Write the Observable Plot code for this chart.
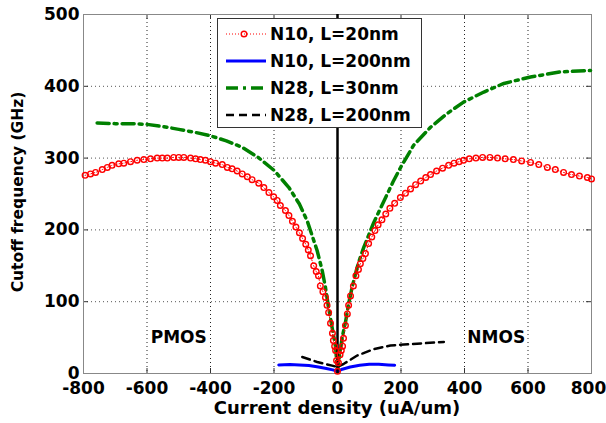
<!DOCTYPE html>
<html>
<head>
<meta charset="utf-8">
<script src="https://cdn.jsdelivr.net/npm/d3@7"></script>
<script src="https://cdn.jsdelivr.net/npm/@observablehq/plot@0.6"></script>
<style>
  html, body { margin: 0; padding: 0; background: #fff; }
  #wrap { position: relative; width: 606px; height: 423px; }
  #legend { position: absolute; left: 217px; top: 18px; width: 205px; height: 110px;
            box-sizing: border-box; border: 1px solid #333; background: #fff; }
  #legend svg { display: block; }
  #legend text { font-family: "DejaVu Sans", sans-serif; font-weight: bold; font-size: 17px; fill: #000; }
  .title { position: absolute; white-space: nowrap; font-family: "DejaVu Sans", sans-serif;
           font-weight: bold; color: #000; line-height: 1; }
  #ytitle { left: 19px; top: 192px; font-size: 15.5px; transform: translate(-50%, -50%) rotate(-90deg); }
  #xtitle { left: 337px; top: 408px; font-size: 18px; transform: translate(-50%, -50%); }
</style>
</head>
<body>
<div id="wrap"></div>
<script>
// Tick values
const xTicks = [-800, -600, -400, -200, 0, 200, 400, 600, 800];
const yTicks = [0, 100, 200, 300, 400, 500];

// N10, L=20nm (uA/um, GHz)
const n10L20X = [-795, -778, -762, -741, -725, -710, -689, -673, -652, -631, -610, -589, -568, -552, -536, -516, -500, -484, -463, -447, -432, -416, -400, -384, -363, -347, -332, -316, -300, -284, -269, -248, -232, -216, -201, -190, -180, -164, -153, -142, -131, -120, -110, -100, -92, -85, -75, -67, -60, -54, -46, -38, -33, -28, -22, -16, -13, -9, -6, -3, 0,
  3, 8, 12, 16, 19, 25, 31, 35, 41, 50, 58, 66, 72, 80, 88, 98, 108, 118, 128, 140, 152, 165, 180, 198, 214, 230, 246, 262, 278, 293, 312, 331, 350, 367, 383, 397, 415, 436, 457, 480, 504, 528, 554, 580, 608, 634, 661, 686, 712, 737, 762, 787, 800];
const n10L20Y = [276, 278, 280, 284, 287, 290, 292, 293, 295, 297, 298, 299, 300, 300, 300, 301, 301, 301, 300, 299, 298, 297, 295, 293, 291, 287, 285, 282, 278, 274, 270, 265, 259, 252, 246, 241, 234, 227, 220, 212, 204, 196, 188, 180, 172, 164, 150, 142, 136, 122, 114, 106, 95, 85, 70, 56, 46, 38, 32, 18, 3,
  15, 26, 32, 38, 49, 67, 83, 95, 108, 122, 136, 145, 153, 160, 167, 181, 190, 199, 207, 214, 222, 230, 237, 245, 251, 257, 263, 268, 273, 277, 282, 286, 290, 293, 295, 297, 299, 300, 301, 301, 300, 299, 298, 296, 294, 291, 287, 284, 280, 277, 275, 273, 271];

// N10, L=200nm
const n10L200X = [-185, -150, -120, -90, -60, -35, -15, 0, 15, 40, 70, 100, 130, 160, 180];
const n10L200Y = [12, 12.5, 12, 11, 9, 7, 5, 3, 6, 9, 11.5, 13, 13, 12, 11.5];

// N28, L=30nm
const n28L30X = [-757, -700, -650, -600, -550, -500, -450, -400, -350, -300, -250, -200, -153, -120, -95, -64, -48, -38, -28, -17, -6, 0,
  4, 15, 25, 35, 46, 62, 72, 83, 114, 146, 175, 200, 240, 293, 345, 397, 461, 524, 608, 702, 797];
const n28L30Y = [349, 348, 348, 347, 344, 340, 336, 331, 324, 315, 301, 283, 259, 236, 212, 171, 143, 120, 92, 64, 37, 2,
  18, 51, 71, 97, 120, 148, 162, 176, 210, 240, 267, 288, 318, 343, 362, 378, 392, 404, 413, 420, 422];

// N28, L=200nm
const n28L200X = [-111, -64, -17, 0, 20, 62, 115, 167, 230, 335];
const n28L200Y = [23, 16, 11, 9, 13.5, 25, 34, 39, 41, 44];

// Region labels
const regionNames = ["PMOS", "NMOS"];
const regionX = [-500, 500];
const regionY = [50, 50];

const rows = (xs, ys) => xs.map((x, i) => ({x, y: ys[i]}));
const red = rows(n10L20X, n10L20Y);
const blue = rows(n10L200X, n10L200Y);
const green = rows(n28L30X, n28L30Y);
const black = rows(n28L200X, n28L200Y);
const regions = regionNames.map((name, i) => ({name, x: regionX[i], y: regionY[i]}));

const W = 606, H = 423, mL = 83, mR = 15, mT = 14, mB = 50;
const innerW = W - mL - mR, innerH = H - mT - mB;
const tickLen = 5;
const font = {fontFamily: "DejaVu Sans, sans-serif", fontWeight: "bold"};
const lastX = xTicks[xTicks.length - 1];

const chart = Plot.plot({
  width: W, height: H,
  marginLeft: mL, marginRight: mR, marginTop: mT, marginBottom: mB,
  style: {fontFamily: "DejaVu Sans, sans-serif", fontSize: "17px", fontWeight: "bold", color: "#000", background: "#fff"},
  x: {domain: [-800, 800], ticks: xTicks, tickSize: 0, tickPadding: 8, label: null,
      tickFormat: d => d === lastX ? "" : String(d)},
  y: {domain: [0, 500], ticks: yTicks, tickSize: 0, tickPadding: 4, label: null},
  marks: [
    // dotted grid
    Plot.ruleX(xTicks.slice(1, -1), {stroke: "#222", strokeWidth: 1, strokeDasharray: "1,3"}),
    Plot.ruleY(yTicks.slice(1, -1), {stroke: "#555", strokeWidth: 1, strokeDasharray: "1,3"}),
    // inward ticks on all four sides
    Plot.tickX(xTicks, {x: d => d, insetTop: innerH - tickLen, stroke: "#333"}),
    Plot.tickX(xTicks, {x: d => d, insetBottom: innerH - tickLen, stroke: "#333"}),
    Plot.tickY(yTicks, {y: d => d, insetRight: innerW - tickLen, stroke: "#333"}),
    Plot.tickY(yTicks, {y: d => d, insetLeft: innerW - tickLen, stroke: "#333"}),
    Plot.frame({stroke: "#888", strokeWidth: 1}),
    // last x tick label, kept inside the page edge
    Plot.text([lastX], {x: d => d, frameAnchor: "bottom", lineAnchor: "top", dy: 8, dx: -3, text: d => String(d), fontSize: 17, ...font, fill: "#000"}),
    // curves
    Plot.line(green, {x: "x", y: "y", stroke: "#008000", strokeWidth: 3.5, strokeDasharray: "12,5,3,5"}),
    Plot.line(blue, {x: "x", y: "y", stroke: "#0000ff", strokeWidth: 3}),
    Plot.line(black, {x: "x", y: "y", stroke: "#000", strokeWidth: 2.5, strokeDasharray: "8,5"}),
    Plot.line(red, {x: "x", y: "y", stroke: "#ff0000", strokeWidth: 1, strokeDasharray: "1,2"}),
    Plot.ruleX([0], {stroke: "#000", strokeWidth: 2.5}),
    Plot.dot(red, {x: "x", y: "y", r: 2.8, stroke: "#ff0000", strokeWidth: 1.4, fill: "none"}),
    // region labels
    Plot.text(regions, {x: "x", y: "y", text: "name", fontSize: 17, ...font, fill: "#000"})
  ]
});

const wrap = document.getElementById("wrap");
wrap.appendChild(chart);

// Axis titles
const yTitle = document.createElement("div");
yTitle.id = "ytitle"; yTitle.className = "title";
yTitle.textContent = "Cutoff frequency (GHz)";
wrap.appendChild(yTitle);
const xTitle = document.createElement("div");
xTitle.id = "xtitle"; xTitle.className = "title";
xTitle.textContent = "Current density (uA/um)";
wrap.appendChild(xTitle);

// Legend box drawn inside the axes
const legendItems = [
  {label: "N10, L=20nm", stroke: "#ff0000", width: 1, dash: "1,2", marker: true},
  {label: "N10, L=200nm", stroke: "#0000ff", width: 3, dash: null, marker: false},
  {label: "N28, L=30nm", stroke: "#008000", width: 3.5, dash: "12,5,3,5", marker: false},
  {label: "N28, L=200nm", stroke: "#000", width: 2.5, dash: "8,5", marker: false}
];
const legend = document.createElement("div");
legend.id = "legend";
const ns = "http://www.w3.org/2000/svg";
const lsvg = document.createElementNS(ns, "svg");
lsvg.setAttribute("width", 203);
lsvg.setAttribute("height", 108);
legendItems.forEach((item, i) => {
  const cy = 15 + i * 27;
  const line = document.createElementNS(ns, "line");
  line.setAttribute("x1", 8); line.setAttribute("x2", 48);
  line.setAttribute("y1", cy); line.setAttribute("y2", cy);
  line.setAttribute("stroke", item.stroke);
  line.setAttribute("stroke-width", item.width);
  if (item.dash) line.setAttribute("stroke-dasharray", item.dash);
  lsvg.appendChild(line);
  if (item.marker) {
    const c = document.createElementNS(ns, "circle");
    c.setAttribute("cx", 26); c.setAttribute("cy", cy); c.setAttribute("r", 2.8);
    c.setAttribute("fill", "none"); c.setAttribute("stroke", item.stroke); c.setAttribute("stroke-width", 1.4);
    lsvg.appendChild(c);
  }
  const t = document.createElementNS(ns, "text");
  t.setAttribute("x", 52); t.setAttribute("y", cy); t.setAttribute("dy", "0.36em");
  t.textContent = item.label;
  lsvg.appendChild(t);
});
legend.appendChild(lsvg);
wrap.appendChild(legend);
</script>
</body>
</html>
